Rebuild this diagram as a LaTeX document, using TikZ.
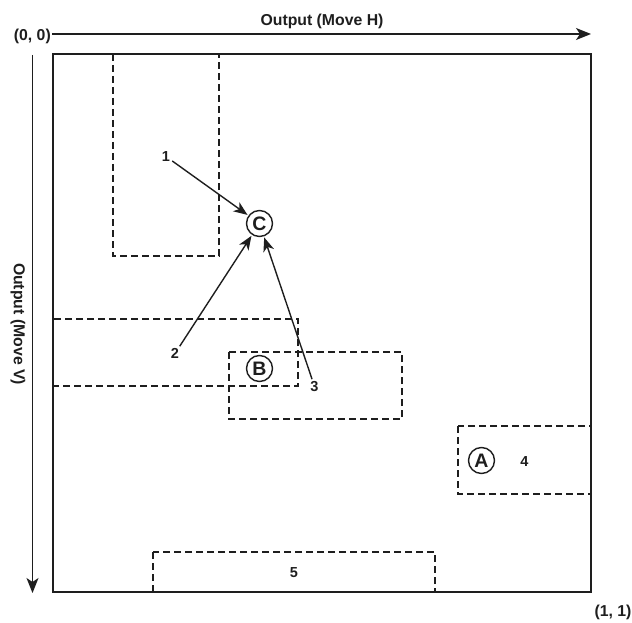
\documentclass[tikz,border=0pt]{standalone}
\usepackage{fontspec}
\setmainfont{Liberation Sans}
\usetikzlibrary{arrows.meta}
\definecolor{ink}{HTML}{1E1E1E}
\begin{document}
\begin{tikzpicture}[x=1pt,y=-1pt,
  every node/.style={font=\bfseries, text=ink},
  axislabel/.style={font=\fontsize{15.8}{18}\selectfont\bfseries, inner sep=1pt},
  numlabel/.style={font=\fontsize{14.5}{17}\selectfont\bfseries, inner sep=2pt},
  marker/.style={draw=ink, circle, line width=1.4pt, minimum size=26pt, inner sep=0pt,
    font=\fontsize{19.5}{22}\selectfont\bfseries},
  region/.style={draw=ink, line width=1.1pt, dash pattern=on 7pt off 4pt},
  frame/.style={draw=ink, line width=2.6pt},
  axis/.style={draw=ink, line width=1.4pt, -{Stealth[length=15pt,width=12pt,inset=4pt]}},
  link/.style={draw=ink, line width=1.4pt, shorten >=1pt, -{Stealth[length=14pt,width=11pt,inset=4pt]}}
]
\useasboundingbox (0,0) rectangle (632,623);
% regions
\draw[region] (113,54) rectangle (219,256);
\draw[region] (53,319) rectangle (298,386);
\draw[region] (229,352) rectangle (402,419);
\draw[region] (458,426) rectangle (591,494);
\draw[region] (153,552) rectangle (435,592);
% frame
\draw[frame] (53,54) rectangle (591,592);
% axes
\node[axislabel, anchor=east] (origin) at (52,36) {(0, 0)};
\coordinate (hend) at (591,34);
\draw[axis] (origin.east |- hend) -- (hend);
\node[axislabel] (hlabel) at (322,21) {Output (Move H)};
\coordinate (vstart) at (32.5,55);
\coordinate (vend) at (32.5,593);
\draw[axis] (vstart) -- (vend);
\node[axislabel, rotate=-90] (vlabel) at (18,324) {Output (Move V)};
\node[axislabel] (corner) at (613,612) {(1, 1)};
% markers
\node[marker] (C) at (259.5,223.5) {C};
\node[marker] (B) at (259.5,368.5) {B};
\node[marker] (A) at (481.5,460.5) {A};
% number labels
\node[numlabel] (n1) at (166,156.5) {1};
\node[numlabel] (n2) at (175,353.5) {2};
\node[numlabel] (n3) at (314.5,386.5) {3};
\node[numlabel] (n4) at (524.5,462) {4};
\node[numlabel] (n5) at (294,573) {5};
% links
\draw[link] (n1) -- (C);
\draw[link] (n2) -- (C);
\draw[link] (n3) -- (C);
\end{tikzpicture}
\end{document}
